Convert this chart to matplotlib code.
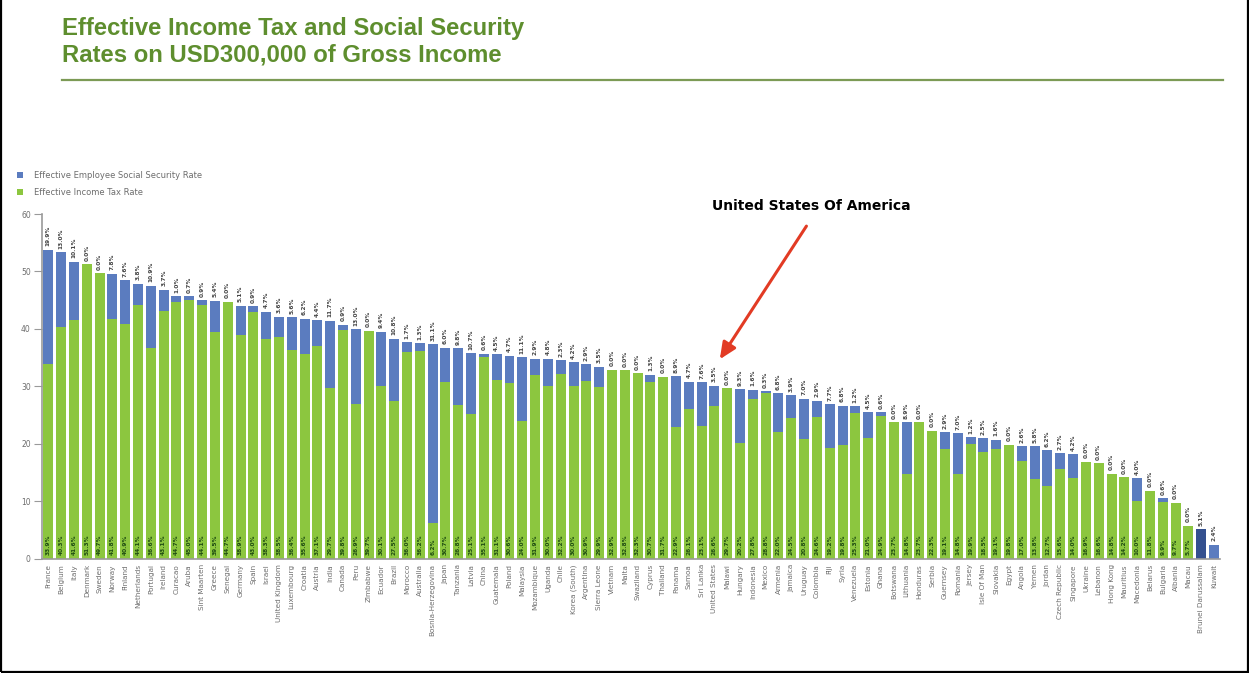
import matplotlib
matplotlib.use("Agg")
import matplotlib.pyplot as plt
from matplotlib.patches import Rectangle
from matplotlib.lines import Line2D

countries = [
    "France", "Belgium", "Italy", "Denmark", "Sweden", "Norway", "Finland", "Netherlands",
    "Portugal", "Ireland", "Curacao", "Aruba", "Sint Maarten", "Greece", "Senegal", "Germany",
    "Spain", "Israel", "United Kingdom", "Luxembourg", "Croatia", "Austria", "India", "Canada",
    "Peru", "Zimbabwe", "Ecuador", "Brazil", "Morocco", "Australia", "Bosnia-Herzegovina", "Japan",
    "Tanzania", "Latvia", "China", "Guatemala", "Poland", "Malaysia", "Mozambique", "Uganda",
    "Chile", "Korea (South)", "Argentina", "Sierra Leone", "Vietnam", "Malta", "Swaziland", "Cyprus",
    "Thailand", "Panama", "Samoa", "Sri Lanka", "United States", "Malawi", "Hungary", "Indonesia",
    "Mexico", "Armenia", "Jamaica", "Uruguay", "Colombia", "Fiji", "Syria", "Venezuela",
    "Estonia", "Ghana", "Botswana", "Lithuania", "Honduras", "Serbia", "Guernsey", "Romania",
    "Jersey", "Isle Of Man", "Slovakia", "Egypt", "Angola", "Yemen", "Jordan", "Czech Republic",
    "Singapore", "Ukraine", "Lebanon", "Hong Kong", "Mauritius", "Macedonia", "Belarus", "Bulgaria",
    "Albania", "Macau", "Brunei Darussalam", "Kuwait",
]

income_tax = [
    33.9, 40.3, 41.6, 51.3, 49.7, 41.8, 40.9, 44.1,
    36.6, 43.1, 44.7, 45.0, 44.1, 39.5, 44.7, 38.9,
    43.0, 38.3, 38.5, 36.4, 35.6, 37.1, 29.7, 39.8,
    26.9, 39.7, 30.1, 27.5, 36.0, 36.2, 6.2, 30.7,
    26.8, 25.1, 35.1, 31.1, 30.6, 24.0, 31.9, 30.0,
    32.2, 30.0, 30.9, 29.9, 32.9, 32.8, 32.3, 30.7,
    31.7, 22.9, 26.1, 23.1, 26.6, 29.7, 20.2, 27.8,
    28.8, 22.0, 24.5, 20.8, 24.6, 19.2, 19.8, 25.3,
    21.0, 24.9, 23.7, 14.8, 23.7, 22.3, 19.1, 14.8,
    19.9, 18.5, 19.1, 19.8, 17.0, 13.8, 12.7, 15.6,
    14.0, 16.9, 16.6, 14.8, 14.2, 10.0, 11.8, 9.9,
    9.7, 5.7, 0.0, 0.0,
]

social_security = [
    19.9, 13.0, 10.1, 0.0, 0.0, 7.8, 7.6, 3.8,
    10.9, 3.7, 1.0, 0.7, 0.9, 5.4, 0.0, 5.1,
    0.9, 4.7, 3.6, 5.6, 6.2, 4.4, 11.7, 0.9,
    13.0, 0.0, 9.4, 10.8, 1.7, 1.3, 31.1, 6.0,
    9.8, 10.7, 0.6, 4.5, 4.7, 11.1, 2.9, 4.8,
    2.3, 4.2, 2.9, 3.5, 0.0, 0.0, 0.0, 1.3,
    0.0, 8.9, 4.7, 7.6, 3.5, 0.0, 9.3, 1.6,
    0.3, 6.8, 3.9, 7.0, 2.9, 7.7, 6.8, 1.2,
    4.5, 0.6, 0.0, 8.9, 0.0, 0.0, 2.9, 7.0,
    1.2, 2.5, 1.6, 0.0, 2.6, 5.8, 6.2, 2.7,
    4.2, 0.0, 0.0, 0.0, 0.0, 4.0, 0.0, 0.6,
    0.0, 0.0, 5.1, 2.4,
]

y_ticks = [0, 10, 20, 30, 40, 50, 60]
highlight = "United States"

GREEN = "#8cc63f"
BLUE = "#5b7cbf"
NAVY = "#34508f"
TITLE_GREEN = "#5e8e2e"
GREY = "#6d6d6d"

fig = plt.figure(figsize=(12.49, 6.73), dpi=100)
fig.patch.set_facecolor("white")

# frame around the whole graphic
fig.add_artist(Rectangle((0.0012, 0.0015), 0.9976, 1.2, transform=fig.transFigure,
                         fill=False, edgecolor="black", linewidth=1.6))

fig.text(0.0496, 0.975,
         "Effective Income Tax and Social Security\nRates on USD300,000 of Gross Income",
         ha="left", va="top", fontsize=17.2, fontweight="bold", color=TITLE_GREEN,
         family=["Liberation Sans", "DejaVu Sans"], linespacing=1.22)
fig.add_artist(Line2D([0.0496, 0.979], [0.881, 0.881], transform=fig.transFigure,
                      color="#7c9a55", linewidth=1.6))

ax = fig.add_axes([0.0336, 0.1700, 0.9435, 0.5120])
x = list(range(len(countries)))

ss_colors = [NAVY if c == "Brunei Darussalam" else BLUE for c in countries]
ax.bar(x, income_tax, width=0.78, color=GREEN, linewidth=0,
       label="Effective Income Tax Rate")
ax.bar(x, social_security, width=0.78, bottom=income_tax, color=ss_colors, linewidth=0,
       label="Effective Employee Social Security Rate")

# value labels: social security on top, income tax at the foot of each bar
for xi, it, ss in zip(x, income_tax, social_security):
    ax.text(xi, it + ss + 0.6, f"{ss:.1f}%", rotation=90, ha="center", va="bottom",
            fontsize=4.2, color="#444444", fontweight="bold")
    if it > 0:
        ax.text(xi, 0.6, f"{it:.1f}%", rotation=90, ha="center", va="bottom",
                fontsize=4.2, color="#1f4d12", fontweight="bold")

ax.set_xlim(-0.5, len(countries) - 0.5)
ax.set_ylim(0, 60)
ax.set_yticks(y_ticks)
ax.set_yticklabels([str(v) for v in y_ticks], fontsize=5.5, color=GREY)
ax.set_xticks(x)
ax.set_xticklabels(countries, rotation=90, fontsize=5.2, color=GREY)
ax.tick_params(axis="y", length=6, width=0.8, color="#9a9a9a", pad=2)
ax.tick_params(axis="x", length=0, pad=4)
for side in ("top", "right"):
    ax.spines[side].set_visible(False)
ax.spines["left"].set_color("#9a9a9a")
ax.spines["bottom"].set_color("#9a9a9a")
ax.spines["left"].set_linewidth(1.2)
ax.spines["bottom"].set_linewidth(1.2)

# legend (social security listed first)
handles, labels = ax.get_legend_handles_labels()
leg = fig.legend(handles[::-1], labels[::-1], loc="upper left",
                 bbox_to_anchor=(0.008, 0.757), frameon=False, fontsize=6,
                 handlelength=0.7, handleheight=0.7, handletextpad=1.3, labelspacing=0.95)
for t in leg.get_texts():
    t.set_color(GREY)

# call-out for the United States bar
us = countries.index(highlight)
us_top = income_tax[us] + social_security[us]
ax.annotate("", xy=(us + 0.3, us_top + 4.2), xytext=(us + 7.3, 58.3),
            arrowprops=dict(arrowstyle="-|>,head_length=1.0,head_width=0.45",
                            color="#e23b24", lw=2.2), annotation_clip=False)
ax.text(us + 7.6, 61.4, "United States Of America", ha="center", va="center",
        fontsize=10, fontweight="bold", color="black", clip_on=False)

fig.savefig("out.png", dpi=100, facecolor="white")
